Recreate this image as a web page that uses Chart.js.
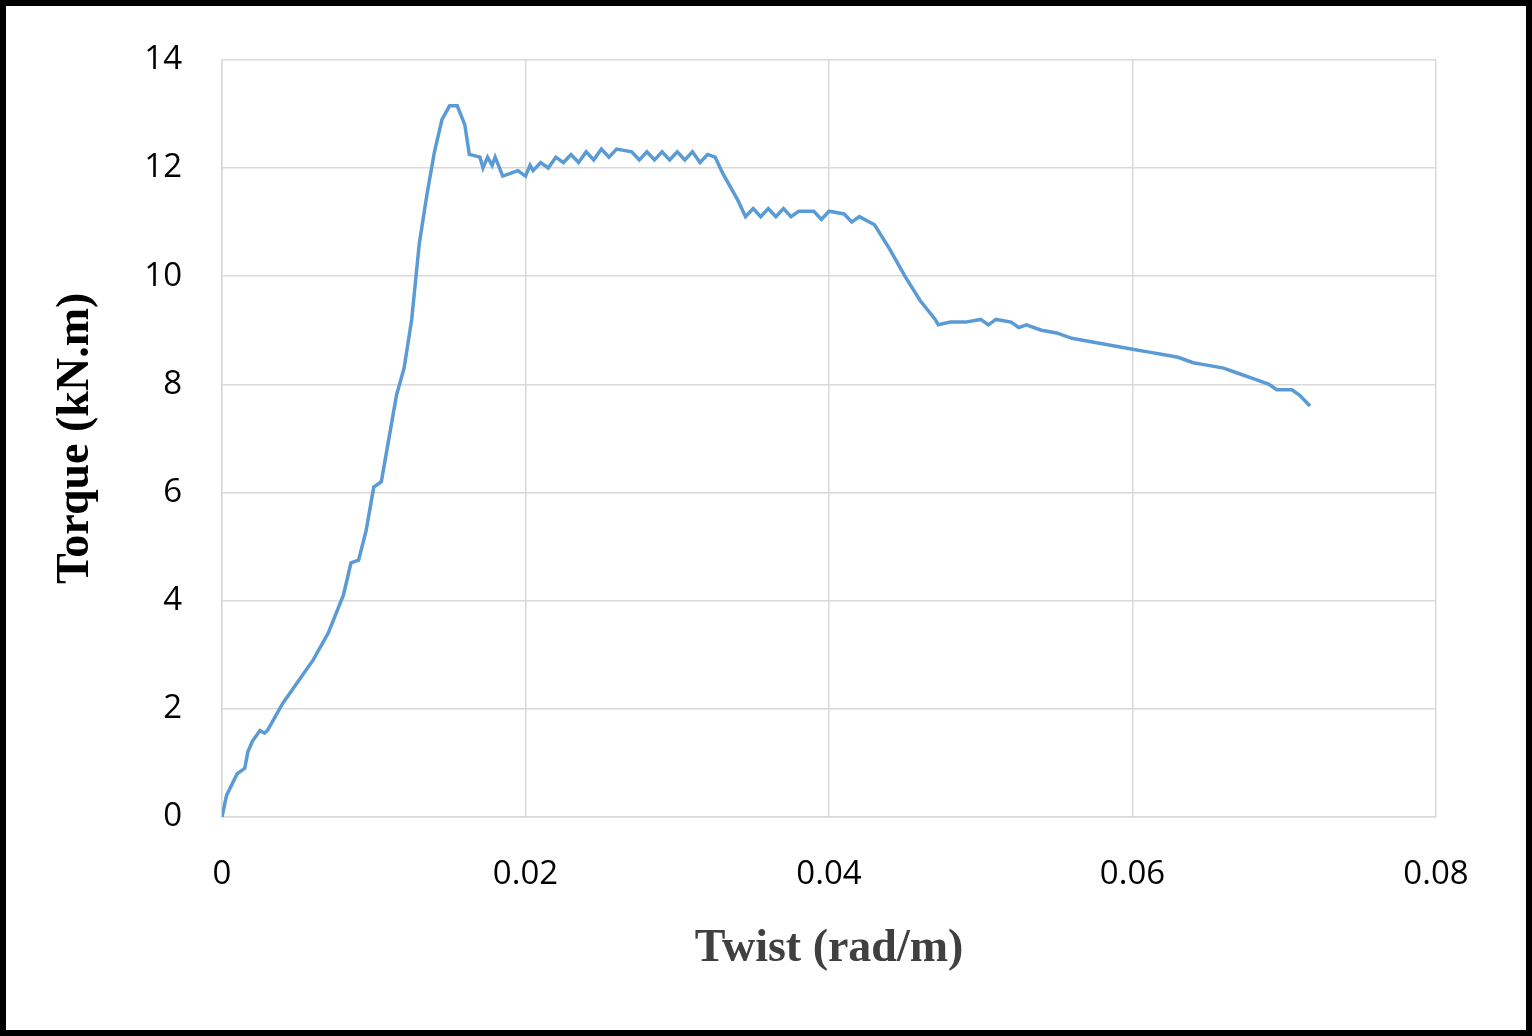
<!DOCTYPE html>
<html><head><meta charset="utf-8">
<script src="https://cdn.jsdelivr.net/npm/chart.js@4"></script>
<style>
html,body{margin:0;padding:0;background:#fff;}
#wrap{position:absolute;left:0;top:0;width:1532px;height:1036px;box-sizing:border-box;border:6px solid #000;}
canvas{position:absolute;left:0;top:0;}
</style></head><body>
<div id="wrap"></div>
<canvas id="c" width="1532" height="1036" style="width:1532px;height:1036px"></canvas>
<script>
const twist = [0,0.0003,0.001,0.0015,0.0017,0.002,0.0025,0.0028,0.003,0.004,0.005,0.006,0.007,0.008,0.0085,0.009,0.0095,0.010,0.0105,0.011,0.0115,0.012,0.0125,0.013,0.0135,0.014,0.0145,0.015,0.0155,0.016,0.0163,0.017,0.0172,0.0175,0.0178,0.018,0.0185,0.019,0.0195,0.020,0.0203,0.0205,0.021,0.0215,0.022,0.0225,0.023,0.0235,0.024,0.0245,0.025,0.0255,0.026,0.027,0.0275,0.028,0.0285,0.029,0.0295,0.030,0.0305,0.031,0.0315,0.032,0.0325,0.033,0.034,0.0345,0.035,0.0355,0.036,0.0365,0.037,0.0375,0.038,0.039,0.0395,0.040,0.041,0.0415,0.042,0.043,0.044,0.045,0.046,0.047,0.0472,0.048,0.049,0.050,0.0505,0.051,0.052,0.0525,0.053,0.054,0.055,0.056,0.057,0.058,0.059,0.060,0.061,0.062,0.063,0.064,0.065,0.066,0.067,0.068,0.069,0.0695,0.070,0.0705,0.071,0.0717];
const torque = [0,0.4,0.8,0.9,1.2,1.4,1.6,1.55,1.6,2.1,2.5,2.9,3.4,4.1,4.7,4.75,5.3,6.1,6.2,7.0,7.8,8.3,9.2,10.6,11.5,12.3,12.9,13.15,13.15,12.8,12.25,12.2,12.0,12.2,12.05,12.2,11.85,11.9,11.95,11.85,12.05,11.95,12.1,12.0,12.2,12.1,12.25,12.1,12.3,12.15,12.35,12.2,12.35,12.3,12.15,12.3,12.15,12.3,12.15,12.3,12.15,12.3,12.1,12.25,12.2,11.9,11.4,11.1,11.25,11.1,11.25,11.1,11.25,11.1,11.2,11.2,11.05,11.2,11.15,11.0,11.1,10.95,10.5,10.0,9.55,9.2,9.1,9.15,9.15,9.2,9.1,9.2,9.15,9.05,9.1,9.0,8.95,8.85,8.8,8.75,8.7,8.65,8.6,8.55,8.5,8.4,8.35,8.3,8.2,8.1,8.0,7.9,7.9,7.9,7.8,7.6];
const xTicks = [0,0.02,0.04,0.06,0.08];
const yTicks = [0,2,4,6,8,10,12,14];
const pts = twist.map((x,i)=>({x:x,y:torque[i]}));
new Chart(document.getElementById('c'),{
  type:'scatter',
  data:{datasets:[{data:pts,showLine:true,borderColor:'#5b9bd5',borderWidth:3.5,pointRadius:0,tension:0}]},
  options:{responsive:false,animation:false,
    layout:{padding:{left:45,top:55,right:96,bottom:55}},
    plugins:{legend:{display:false},tooltip:{enabled:false}},
    scales:{
      x:{type:'linear',min:0,max:0.08,
        afterBuildTicks:s=>{s.ticks=xTicks.map(v=>({value:v}));},
        afterFit:s=>{s.height=164;},
        grid:{color:'#d9d9d9',lineWidth:1.5,tickLength:0},
        border:{color:'#d9d9d9',width:1.5},
        ticks:{color:'#000',font:{family:'Open Sans',size:33},padding:38,maxRotation:0,callback:v=>String(v)},
        title:{display:true,text:'Twist (rad/m)',color:'#404040',font:{family:'Liberation Serif',size:46,weight:'bold'},padding:{top:4}}},
      y:{min:0,max:14,
        afterBuildTicks:s=>{s.ticks=yTicks.map(v=>({value:v}));},
        afterFit:s=>{s.width=177;},
        grid:{color:'#d9d9d9',lineWidth:1.5,tickLength:0},
        border:{color:'#d9d9d9',width:1.5},
        ticks:{color:'#000',font:{family:'Open Sans',size:33},padding:40},
        title:{display:true,text:'Torque (kN.m)',color:'#000',font:{family:'Liberation Serif',size:46,weight:'bold'},padding:{bottom:40}}}
    }}
});
</script></body></html>
